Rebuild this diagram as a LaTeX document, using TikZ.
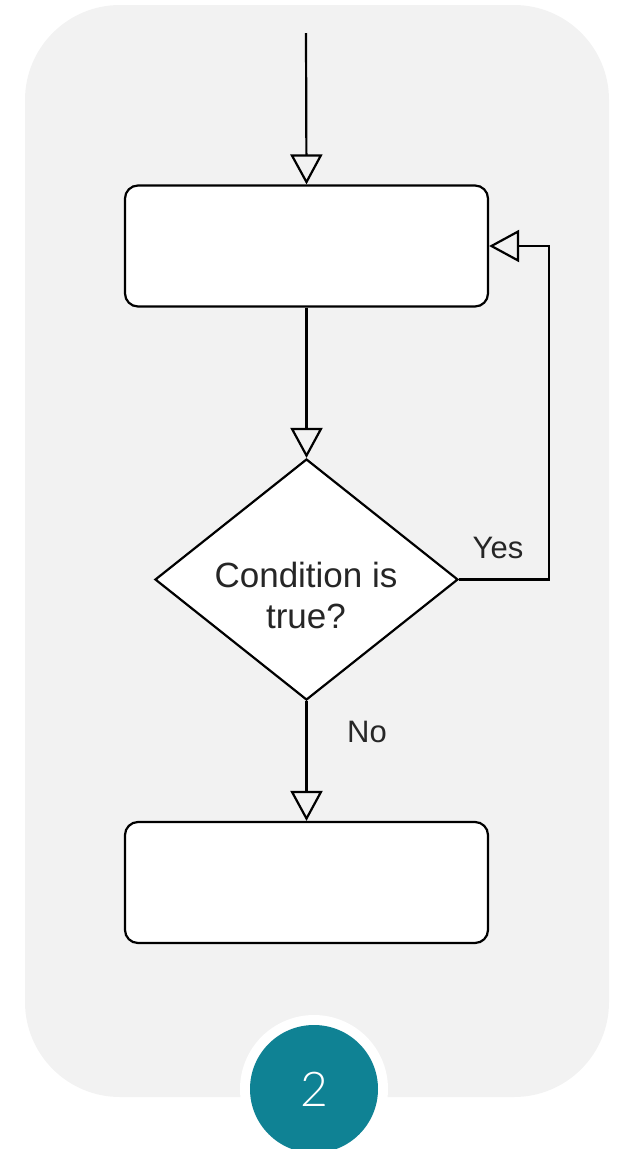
\documentclass[tikz,border=0pt]{standalone}
\usepackage{fontspec}
\setmainfont{Liberation Sans}
\newfontfamily\badgefont{Lato Light}
\usetikzlibrary{arrows.meta,shapes.geometric}
\definecolor{panelgray}{HTML}{F2F2F2}
\definecolor{badgeteal}{HTML}{0F8294}
\begin{document}
\begin{tikzpicture}[x=1pt,y=-1pt,
  line width=2.2pt,
  flow/.style={draw=black, -{Triangle[open, length=30pt, width=32pt, line width=2.2pt]}},
  procbox/.style={draw=black, fill=white, rounded corners=13pt, minimum width=363pt, minimum height=121pt, inner sep=0pt},
  decision/.style={diamond, draw=black, fill=white, minimum width=303pt, minimum height=241pt, inner sep=0pt, shape aspect=1.26},
  lbl/.style={font=\fontsize{31}{36}\selectfont, text=black!85, inner sep=0pt},
  condlbl/.style={font=\fontsize{35}{41}\selectfont, text=black!85, align=center, inner sep=0pt}
]
\useasboundingbox (0,0) rectangle (626,1149);
\fill[panelgray, rounded corners=95pt] (25,5) rectangle (609,1097);

\coordinate (start) at (306,33);
\node[procbox] (b1) at (306.5,246) {};
\node[decision] (d1) at (306.5,579.5) {};
\node[condlbl] (ct) at (306,595) {Condition is\\true?};
\node[procbox] (b2) at (306.5,882.5) {};

\draw[flow] (start) -- (b1.north);
\draw[flow] (b1.south) -- (d1.north);
\draw[flow] (d1.south) -- (b2.north);
\draw[flow] (d1.east) -- (549,579.5) |- (b1.east);

\node[lbl] (yes) at (498,548) {Yes};
\node[lbl] (no) at (367,732) {No};

\node[circle, fill=white, minimum size=148pt, inner sep=0pt] (ring) at (314,1089) {};
\node[circle, fill=badgeteal, minimum size=128pt, inner sep=0pt, text=white, font=\badgefont\fontsize{48}{56}\selectfont] (badge) at (314,1089) {2};
\end{tikzpicture}
\end{document}
